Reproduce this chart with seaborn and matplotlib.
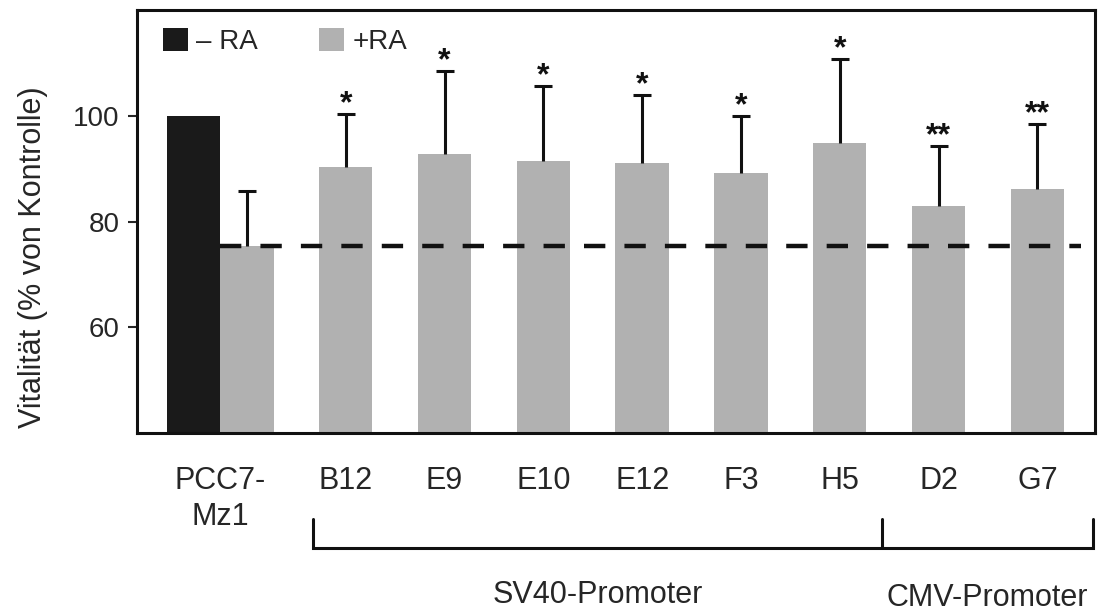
import pandas as pd
import matplotlib
matplotlib.use("Agg")
import matplotlib.pyplot as plt
import seaborn as sns

# values
linien = ["PCC7-\nMz1", "B12", "E9", "E10", "E12", "F3", "H5", "D2", "G7"]
plus_ra = [75.3, 90.4, 92.8, 91.5, 91.1, 89.2, 94.9, 83.0, 86.2]
plus_ra_sd = [10.5, 10.0, 15.7, 14.2, 12.9, 10.8, 15.9, 11.3, 12.3]
minus_ra = [100.0]  # only the parental line PCC7-Mz1
signif = ["", "*", "*", "*", "*", "*", "*", "**", "**"]
gruppen = ["SV40-Promoter", "CMV-Promoter"]

rows = [{"Linie": linien[0], "Behandlung": "– RA", "Vitalitaet": minus_ra[0]}]
for name, val in zip(linien, plus_ra):
    rows.append({"Linie": name, "Behandlung": "+RA", "Vitalitaet": val})
df = pd.DataFrame(rows)

sns.set_theme(style="white")
plt.rcParams["font.family"] = ["Liberation Sans", "DejaVu Sans"]

fig = plt.figure(figsize=(11, 6.15), dpi=100)
ax = fig.add_axes([0.1245, 0.2959, 0.8709, 0.6878])

sns.barplot(data=df, x="Linie", y="Vitalitaet", hue="Behandlung",
            order=linien, hue_order=["– RA", "+RA"],
            palette={"– RA": "#1a1a1a", "+RA": "#b1b1b1"},
            width=1.08, dodge=True, errorbar=None, saturation=1,
            linewidth=0, ax=ax)

bars = list(ax.containers[1])
centers = [b.get_x() + b.get_width() / 2 for b in bars]

# upper error bars only
_, caps, _ = ax.errorbar(centers, plus_ra, yerr=[[0] * len(plus_ra), plus_ra_sd],
                         fmt="none", ecolor="#111111", elinewidth=2.2,
                         capsize=6.8, capthick=2.2, zorder=2)
caps[0].set_visible(False)

for x, y, sd, s in zip(centers, plus_ra, plus_ra_sd, signif):
    if s:
        ax.text(x, y + sd - 1.1, s, ha="center", va="bottom", fontsize=23,
                color="#111111", fontweight="bold")

# dashed reference line at the +RA control level
ax.hlines(plus_ra[0], bars[0].get_x(), bars[-1].get_x() + bars[-1].get_width() + 0.17,
          colors="#111111", linestyles=(0, (4.8, 4.3)), linewidth=3.2, zorder=3)

ax.set_xlim(-0.843, 8.853)
ax.set_ylim(40, 120)
ax.set_yticks([60, 80, 100])
ax.set_xticks([0] + centers[1:])
ax.set_xticklabels(linien, fontsize=22, linespacing=1.25)
ax.tick_params(axis="x", length=0, pad=24)
ax.tick_params(axis="y", labelsize=20, length=6.5, width=1.5, pad=6, left=True)
ax.set_xlabel("")
ax.set_ylabel("Vitalität (% von Kontrolle)", fontsize=22)
ax.yaxis.set_label_coords(-0.093, 0.416)
for sp in ax.spines.values():
    sp.set_linewidth(2.2)
    sp.set_color("#111111")

h, l = ax.get_legend_handles_labels()
ax.legend(h, l, loc="upper left", bbox_to_anchor=(0.027, 0.957), ncol=2, frameon=False,
          fontsize=20, handlelength=0.9, handleheight=0.9, handletextpad=0.3,
          columnspacing=2.2, borderaxespad=0, borderpad=0)

# promoter brackets below the axis
trans = ax.get_xaxis_transform()
left = bars[1].get_x() - 0.06
mid = (bars[6].get_x() + bars[6].get_width() + bars[7].get_x()) / 2 - 0.07
right = bars[8].get_x() + bars[8].get_width() + 0.29
y0, y1 = -0.203, -0.272
ax.plot([left, left, right, right], [y0, y1, y1, y0], transform=trans, color="#111111",
        linewidth=2.2, clip_on=False, solid_joinstyle="miter")
ax.plot([mid, mid], [y0, y1], transform=trans, color="#111111", linewidth=2.2, clip_on=False)
ax.text((left + mid) / 2, -0.383, gruppen[0], transform=trans, ha="center", va="center", fontsize=22)
ax.text((mid + right) / 2, -0.39, gruppen[1], transform=trans, ha="center", va="center", fontsize=22)

fig.savefig("out.png", dpi=100, facecolor="white")
